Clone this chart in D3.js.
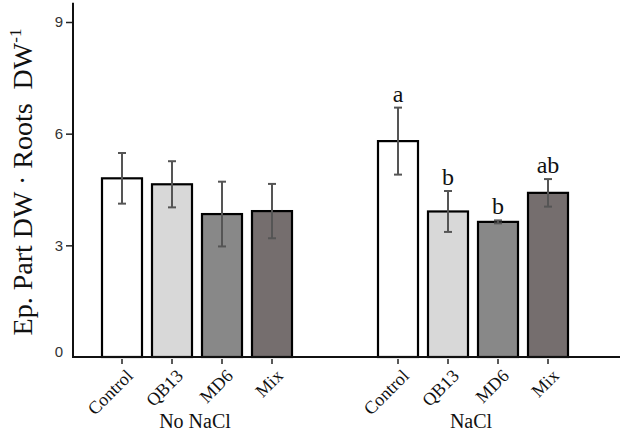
<!doctype html>
<html>
<head>
<meta charset="utf-8" />
<title>Ep. Part DW / Roots DW</title>
<script src="https://cdn.jsdelivr.net/npm/d3@7"></script>
<style>
  html,body{margin:0;background:#fff}
  svg{display:block}
  .serif{font-family:"Liberation Serif","Times New Roman",serif}
  .ytick text{font-family:"Liberation Sans",Arial,sans-serif;font-size:15px;fill:#333}
</style>
</head>
<body>
<svg id="chart" width="624" height="435"></svg>
<script>
// data
const groups      = ["No NaCl", "NaCl"];
const treatments  = ["Control", "QB13", "MD6", "Mix"];
const meanNoNaCl  = [4.80, 4.64, 3.84, 3.92];
const errNoNaCl   = [0.68, 0.62, 0.87, 0.73];
const meanNaCl    = [5.80, 3.91, 3.63, 4.41];
const errNaCl     = [0.90, 0.55, 0.04, 0.37];
const lettersNaCl = ["a", "b", "b", "ab"];
const fills       = ["#ffffff", "#d8d8d8", "#888888", "#756e6e"];
const yTicks      = [0, 3, 6, 9];

const svg = d3.select("#chart");

const y = d3.scaleLinear().domain([0, 9]).range([357, 22]);

const xGroup = d3.scaleBand().domain(groups).range([97, 573]).paddingInner(76 / 276);
const xBar = d3.scaleBand().domain(treatments).range([0, xGroup.bandwidth()])
  .paddingInner(0.2).paddingOuter(0.1);

const rows = [];
groups.forEach((g, gi) => {
  const means = gi === 0 ? meanNoNaCl : meanNaCl;
  const errs  = gi === 0 ? errNoNaCl : errNaCl;
  treatments.forEach((t, i) => {
    rows.push({group: g, t, i, mean: means[i], err: errs[i],
               letter: gi === 1 ? lettersNaCl[i] : ""});
  });
});
const cx = d => xGroup(d.group) + xBar(d.t) + xBar.bandwidth() / 2;

// y axis
const yAxis = d3.axisLeft(y).tickValues(yTicks).tickSize(7).tickPadding(3).tickSizeOuter(0);
const ya = svg.append("g").attr("class", "ytick").attr("transform", "translate(73,0)").call(yAxis);
ya.select(".domain").remove();
ya.selectAll(".tick line").attr("stroke", "#222").attr("stroke-width", 1.5)
  .filter(d => d === 0).remove();
ya.selectAll(".tick text").filter(d => d === 0).attr("dy", "-0.05em");

svg.append("line").attr("x1", 73).attr("x2", 73).attr("y1", y(9.52)).attr("y2", y(0) + 1)
  .attr("stroke", "#111").attr("stroke-width", 2);

// bars
svg.append("g").selectAll("rect").data(rows).join("rect")
  .attr("x", d => xGroup(d.group) + xBar(d.t))
  .attr("y", d => y(d.mean))
  .attr("width", xBar.bandwidth())
  .attr("height", d => y(0) - y(d.mean))
  .attr("fill", d => fills[d.i])
  .attr("stroke", "#000").attr("stroke-width", 2.2);

// x axis baseline
svg.append("line").attr("x1", 72).attr("x2", 620).attr("y1", y(0)).attr("y2", y(0))
  .attr("stroke", "#111").attr("stroke-width", 2);

// error bars
const eb = svg.append("g").attr("stroke", "#555").attr("stroke-width", 2).selectAll("g")
  .data(rows).join("g");
eb.append("line").attr("x1", cx).attr("x2", cx)
  .attr("y1", d => y(d.mean + d.err)).attr("y2", d => y(d.mean - d.err));
eb.append("line").attr("x1", d => cx(d) - 4).attr("x2", d => cx(d) + 4)
  .attr("y1", d => y(d.mean + d.err)).attr("y2", d => y(d.mean + d.err));
eb.append("line").attr("x1", d => cx(d) - 4).attr("x2", d => cx(d) + 4)
  .attr("y1", d => y(d.mean - d.err)).attr("y2", d => y(d.mean - d.err));

// significance letters
svg.append("g").attr("class", "serif").selectAll("text").data(rows.filter(d => d.letter)).join("text")
  .attr("x", cx).attr("y", d => y(d.mean + d.err) - 6)
  .attr("text-anchor", "middle").attr("font-size", 24).attr("fill", "#111")
  .text(d => d.letter);

// x ticks and rotated labels
const xt = svg.append("g").selectAll("g").data(rows).join("g");
xt.append("line").attr("x1", cx).attr("x2", cx).attr("y1", y(0) + 2).attr("y2", y(0) + 7)
  .attr("stroke", "#222").attr("stroke-width", 1.5);
xt.append("text").attr("class", "serif")
  .attr("transform", d => `translate(${cx(d) + 12},377) rotate(-45)`)
  .attr("text-anchor", "end").attr("font-size", 18).attr("fill", "#111")
  .text(d => d.t);

// group labels
svg.append("g").attr("class", "serif").selectAll("text").data(groups).join("text")
  .attr("x", g => xGroup(g) + xGroup.bandwidth() / 2 - 2)
  .attr("y", 428)
  .attr("text-anchor", "middle").attr("font-size", 20).attr("fill", "#111")
  .text(g => g);

// y title
const title = svg.append("text").attr("class", "serif")
  .attr("transform", "translate(32,182) rotate(-90)")
  .attr("text-anchor", "middle").attr("font-size", 28).attr("fill", "#111")
  .style("white-space", "pre");
title.append("tspan").text("Ep. Part DW · Roots  DW");
title.append("tspan").attr("font-size", 17).attr("dy", -11).text("-1");
</script>
</body>
</html>
